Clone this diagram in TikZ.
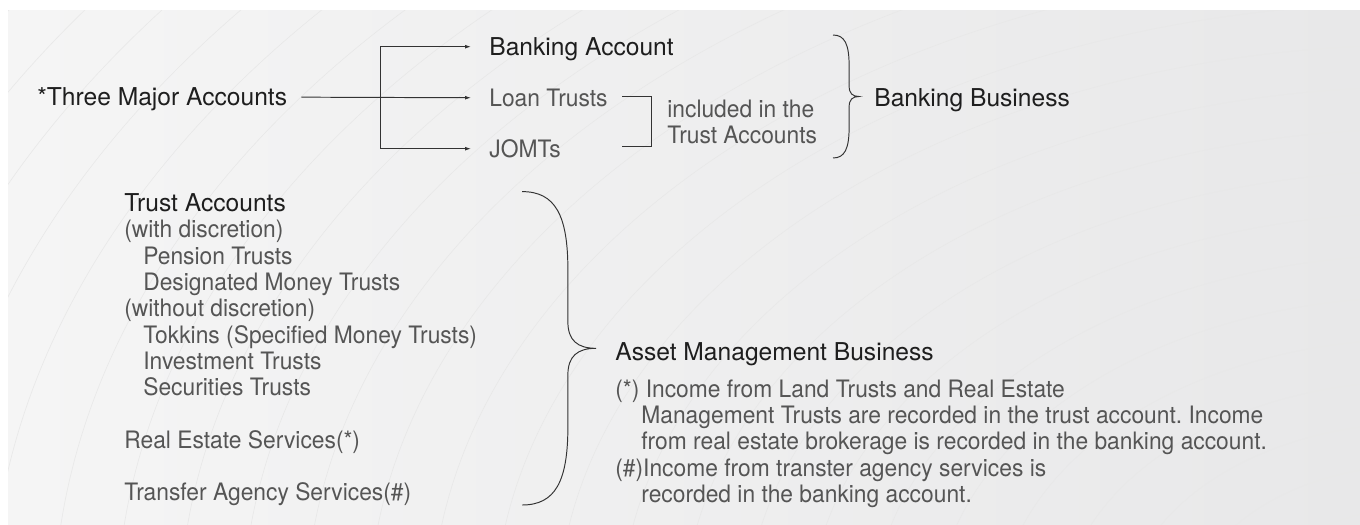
\documentclass[tikz,border=0pt]{standalone}
\usepackage{fontspec}
\setmainfont{TeX Gyre Heros}
\newfontfamily\lightfont{TeX Gyre Heros}[FakeStretch=0.95]
\usetikzlibrary{arrows.meta,positioning}

\definecolor{ink}{HTML}{1E1E1E}
\definecolor{soft}{HTML}{555555}
\definecolor{linecol}{HTML}{333333}
\definecolor{paperl}{HTML}{F5F5F5}
\definecolor{paperr}{HTML}{E8E8E9}
\newcommand\lblsize{\fontsize{13.66pt}{14.97pt}\selectfont\frenchspacing}
\newcommand\headsize{\fontsize{14pt}{14.97pt}\selectfont}

% curly brace: #1 = depth to the tip, #2 = half height
\tikzset{pics/curlybrace/.style 2 args={code={
\draw[bracket] (0,#2) .. controls (0.45*#1,#2) and (0.62*#1,0.85*#2) .. (0.62*#1,0.5*#2)
  -- (0.62*#1,0.17*#2) .. controls (0.62*#1,0.05*#2) and (0.75*#1,0) .. (#1,0)
  .. controls (0.75*#1,0) and (0.62*#1,-0.05*#2) .. (0.62*#1,-0.17*#2)
  -- (0.62*#1,-0.5*#2) .. controls (0.62*#1,-0.85*#2) and (0.45*#1,-#2) .. (0,-#2);
}}}

\begin{document}
\begin{tikzpicture}[
head/.style={inner sep=0pt,text height=0.352cm,text depth=0pt,anchor=west,
text=ink,font=\headsize},
item/.style={head,text height=0.344cm,text=soft,font=\lightfont\lblsize},
block/.style={inner sep=0pt,align=left,anchor=north west,text=soft,
font=\lightfont\lblsize},
bracket/.style={draw=linecol,line width=0.55pt},
flow/.style={-{Latex[length=3.4pt,width=2.2pt]},bracket,shorten >=0.36cm},
ripple/.style={draw=black!9,line width=0.35pt},
node distance=0.656cm]
\useasboundingbox (0,0) rectangle (27.2,-10.48);
\fill[white] (0,0) rectangle (27.2,-10.48);
\shade[left color=paperl,right color=paperr] (0.16,-0.22) rectangle (27.2,-10.48);
\begin{scope}
\clip (0.16,-0.22) rectangle (27.2,-10.48);
\foreach \b in {0.58,1.42,...,22.7}
  \draw[ripple] (28.4,-12.4) ellipse [x radius=1.5*\b, y radius=\b];
\end{scope}

% three accounts
\node[head] (three) at (0.74,-1.934) {*Three Major Accounts};
\node[head] (bank) at (9.78,-0.934) {Banking Account};
\node[item,below=0.656cm of bank.south west,anchor=north west,yshift=-0.008cm] (loan) {Loan Trusts};
\node[item,below=of loan.south west,anchor=north west] (jomt) {JOMTs};
\coordinate (split) at (7.614,-1.934);
\draw[flow,shorten <=0.28cm] (three) -- (loan);
\draw[flow] (split) |- (bank);
\draw[flow] (split) |- (jomt);
\coordinate (bk) at (12.44,-1.934);
\draw[bracket] (bk) -- ++(0.58,0) -- ++(0,-1) -- ++(-0.58,0);
\node[block,anchor=west] (incl) at (13.34,-2.434) {included in the\\Trust Accounts};
\pic at (16.66,-1.93) {curlybrace={0.52}{1.23}};
\node[head] (banking) at (17.48,-1.95) {Banking Business};

% trust accounts and services
\node[block] (trust) at (2.48,-3.864) {{\rmfamily\headsize\color{ink}Trust Accounts}\\
(with discretion)\\
\hspace*{0.38cm}Pension Trusts\\
\hspace*{0.38cm}Designated Money Trusts\\
(without discretion)\\
\hspace*{0.38cm}Tokkins (Specified Money Trusts)\\
\hspace*{0.38cm}Investment Trusts\\
\hspace*{0.38cm}Securities Trusts\\[0.526cm]
Real Estate Services(*)\\[0.526cm]
Transfer Agency Services(\#)};
\pic at (10.44,-6.966) {curlybrace={1.48}{3.134}};
\node[head] (asset) at (12.3,-7.03) {Asset Management Business};
\node[block,below=0.37cm of asset.south west,anchor=north west] (notes)
{(*) Income from Land Trusts and Real Estate\\
\hspace*{0.52cm}Management Trusts are recorded in the trust account. Income\\
\hspace*{0.52cm}from real estate brokerage is recorded in the banking account.\\
(\#)Income from transter agency services is\\
\hspace*{0.52cm}recorded in the banking account.};
\end{tikzpicture}
\end{document}
